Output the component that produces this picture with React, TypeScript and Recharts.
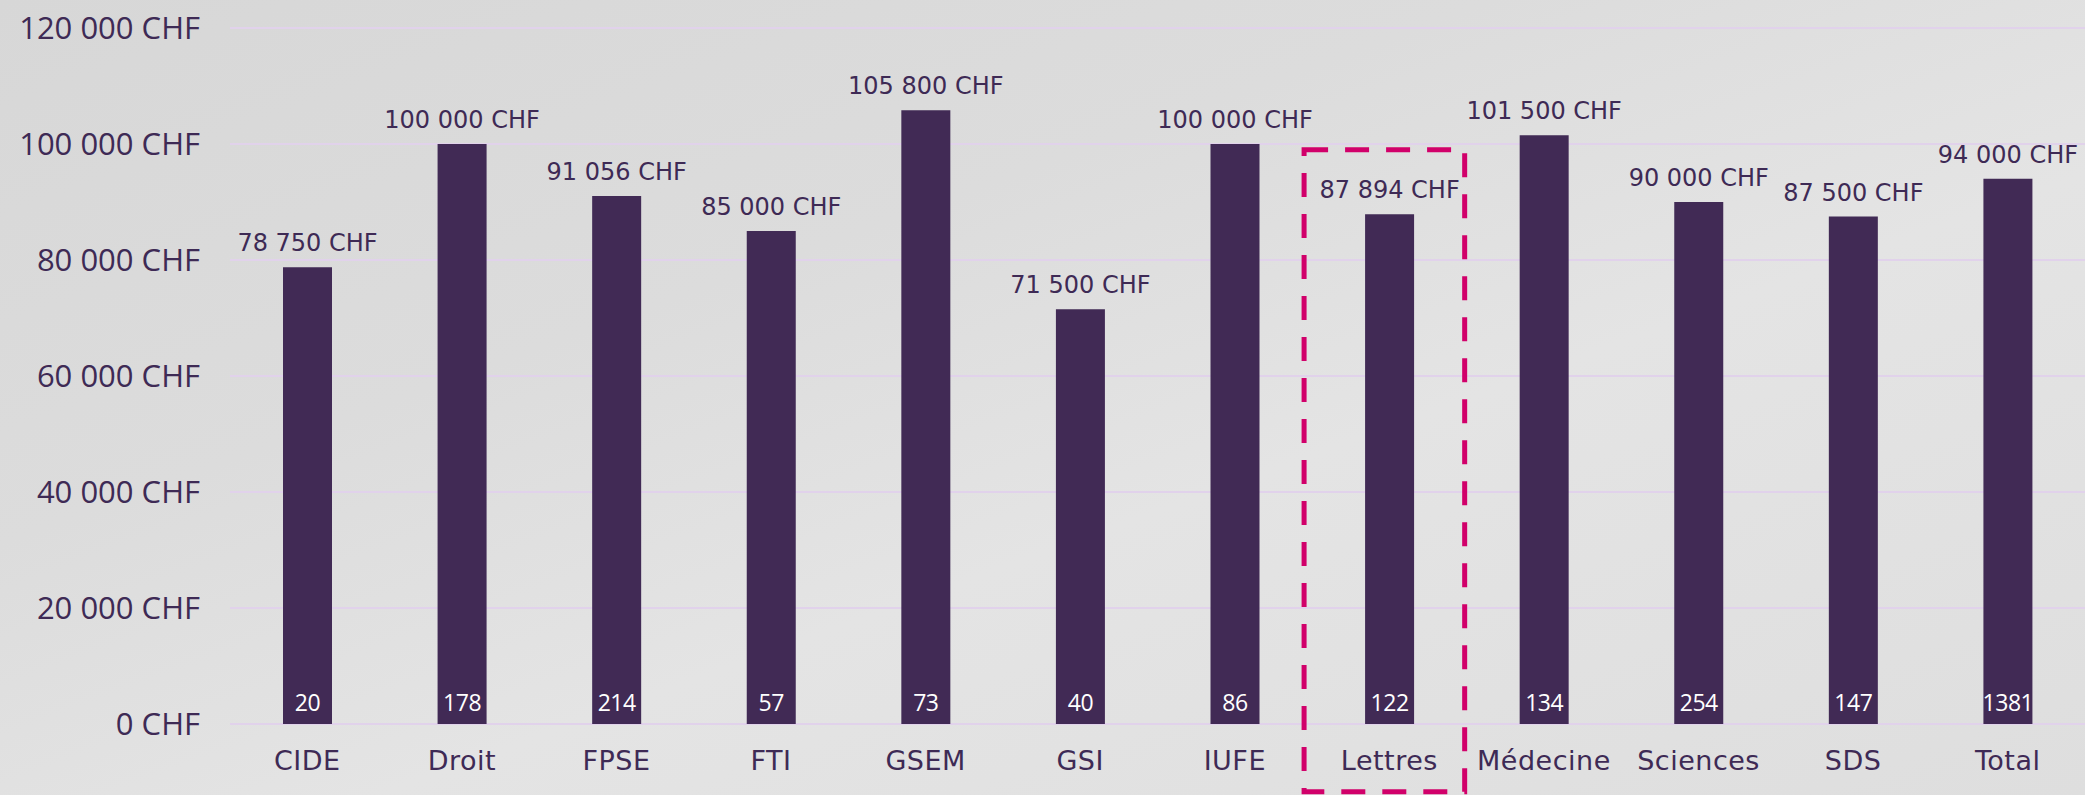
import React from 'react'
import {
    BarChart, Bar, XAxis, YAxis, CartesianGrid,
    LabelList, ReferenceArea,
} from 'recharts'

const faculties = ['CIDE', 'Droit', 'FPSE', 'FTI', 'GSEM', 'GSI', 'IUFE', 'Lettres', 'Médecine', 'Sciences', 'SDS', 'Total']
const salaries = [78750, 100000, 91056, 85000, 105800, 71500, 100000, 87894, 101500, 90000, 87500, 94000]
const respondents = [20, 178, 214, 57, 73, 40, 86, 122, 134, 254, 147, 1381]
const yTicks = [0, 20000, 40000, 60000, 80000, 100000, 120000]

// highlighted faculty and the vertical extent of its dashed frame (in CHF)
const highlight = 'Lettres'
const frameTop = 99000
const frameBottom = -11700

const PURPLE = '#412A55'
const TEXT = '#3E2A55'
const GRID = '#E1D2EB'
const PINK = '#D1006A'

const chf = (n: number) => String(n).replace(/\B(?=(\d{3})+(?!\d))/g, ' ') + ' CHF'

const data = faculties.map((name, i) => ({
    name,
    salary: salaries[i],
    count: respondents[i],
}))

// salary label above the bar, kept on one line
const SalaryLabel = (props: any) => {
    const { x, y, width, value } = props
    return (
        <text
            x={Number(x) + Number(width) / 2}
            y={Number(y) - 16}
            textAnchor="middle"
            fill={TEXT}
            fontSize={24}
            fontFamily="DejaVu Sans"
        >
            {chf(Number(value))}
        </text>
    )
}

// dashed frame, nudged a bit wider on the left like the original
const Frame = (props: any) => {
    const { x, y, width, height } = props
    return (
        <rect
            x={x - 8}
            y={y}
            width={width + 6}
            height={height}
            fill="none"
            stroke={PINK}
            strokeWidth={5}
            strokeDasharray="24 17"
        />
    )
}

export default function App() {
    return (
        <div
            style={{
                position: 'absolute',
                top: 0,
                left: 0,
                width: 2085,
                height: 795,
                background: 'linear-gradient(160deg, #d7d7d7 0%, #dcdcdc 35%, #e4e4e4 60%, #dedede 100%)',
            }}
        >
            <BarChart
                width={2085}
                height={795}
                data={data}
                margin={{ top: 28, right: 0, bottom: 0, left: 0 }}
                barCategoryGap={53}
            >
                <CartesianGrid vertical={false} stroke={GRID} strokeWidth={2} />
                <XAxis
                    dataKey="name"
                    height={71}
                    axisLine={false}
                    tickLine={false}
                    tickSize={0}
                    tickMargin={27}
                    interval={0}
                    tick={{ fontSize: 27, fill: TEXT, fontFamily: 'DejaVu Sans', letterSpacing: 0.5 }}
                />
                <YAxis
                    width={230}
                    domain={[0, 120000]}
                    ticks={yTicks}
                    axisLine={false}
                    tickLine={false}
                    tickSize={0}
                    tickMargin={30}
                    tickFormatter={chf}
                    tick={{ fontSize: 31, fill: TEXT, fontFamily: 'Open Sans' }}
                />
                <Bar dataKey="salary" fill={PURPLE} barSize={49} isAnimationActive={false}>
                    <LabelList dataKey="salary" content={SalaryLabel} />
                    <LabelList
                        dataKey="count"
                        position="insideBottom"
                        offset={13}
                        fill="#FFFFFF"
                        style={{ fontSize: 23, fontFamily: 'Open Sans', letterSpacing: -0.5 }}
                    />
                </Bar>
                <ReferenceArea
                    x1={highlight}
                    x2={highlight}
                    y1={frameBottom}
                    y2={frameTop}
                    ifOverflow="visible"
                    shape={Frame}
                />
            </BarChart>
        </div>
    )
}
